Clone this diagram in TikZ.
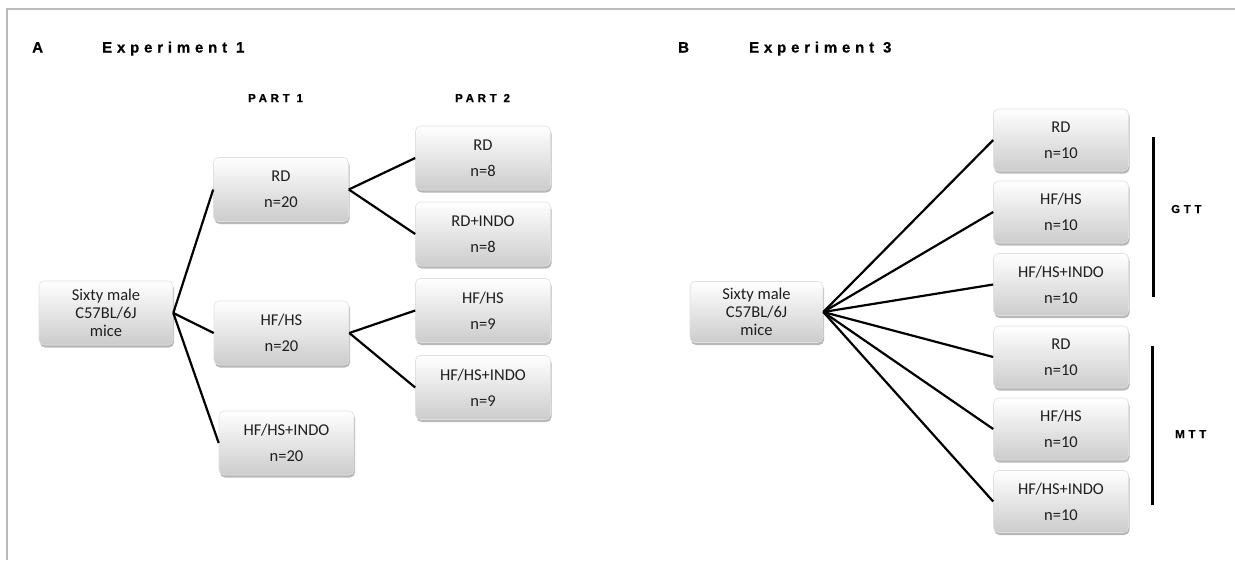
\documentclass[tikz,border=0pt]{standalone}
\usepackage{fontspec}
\setmainfont{Carlito}
\newfontfamily\hdr[LetterSpace=32,FakeBold=0.6]{Liberation Sans Bold}
\usetikzlibrary{shadows}
\begin{document}
\begin{tikzpicture}[x=1pt,y=-1pt,
  box/.style={rounded corners=5pt, draw=black!12, line width=0.6pt,
    top color=white, bottom color=black!20,
    minimum width=135pt, minimum height=64pt, align=center, inner sep=0pt,
    text=black!88, font=\fontsize{16.5}{20}\selectfont,
    drop shadow={shadow xshift=1pt, shadow yshift=-2.5pt, opacity=0.28, fill=black}},
  conn/.style={line width=2.2pt, black},
  grpbar/.style={line width=3.6pt, black},
  hd/.style={font=\hdr\fontsize{15}{17}\selectfont, anchor=base west, inner sep=0pt},
  subhd/.style={font=\hdr\fontsize{11.5}{13}\selectfont, anchor=base west, inner sep=0pt}]
\useasboundingbox (0,0) rectangle (1235,560);
\fill[white] (0,0) rectangle (1235,560);
\draw[line width=2pt, black!27] (7,560) -- (7,8.5) -- (1235,8.5);

% headings
\node[hd] (hA) at (32,52.5) {A};
\node[hd] (hE1) at (102,52.5) {Experiment 1};
\node[hd] (hB) at (678,52.5) {B};
\node[hd] (hE3) at (749,52.5) {Experiment 3};
\node[subhd] (p1) at (248,102) {PART 1};
\node[subhd] (p2) at (455,102) {PART 2};
\node[subhd] (gtt) at (1171,213) {GTT};
\node[subhd] (mtt) at (1175,438) {MTT};

% panel A
\node[box, minimum width=134pt, font=\fontsize{16.5}{18}\selectfont] (s1) at (106,313) {Sixty male\\C57BL/6J\\mice};
\node[box] (a1) at (281,189.5) {RD\\[6pt]n=20};
\node[box] (a2) at (281.5,333) {HF/HS\\[6pt]n=20};
\node[box] (a3) at (286.5,443) {HF/HS+INDO\\[6pt]n=20};
\node[box] (b1) at (483,158) {RD\\[6pt]n=8};
\node[box] (b2) at (483,234) {RD+INDO\\[6pt]n=8};
\node[box] (b3) at (483,310.5) {HF/HS\\[6pt]n=9};
\node[box] (b4) at (483,387.5) {HF/HS+INDO\\[6pt]n=9};

\draw[conn] (s1.east) -- (a1.west);
\draw[conn] (s1.east) -- (a2.west);
\draw[conn] (s1.east) -- (a3.west);
\draw[conn] (a1.east) -- (b1.west);
\draw[conn] (a1.east) -- (b2.west);
\draw[conn] (a2.east) -- (b3.west);
\draw[conn] (a2.east) -- (b4.west);

% panel B
\node[box, minimum width=133pt, minimum height=61pt, font=\fontsize{16.5}{18}\selectfont] (s2) at (756.5,312) {Sixty male\\C57BL/6J\\mice};
\node[box, minimum height=62pt] (c1) at (1061,140) {RD\\[6pt]n=10};
\node[box, minimum height=62pt] (c2) at (1061,212) {HF/HS\\[6pt]n=10};
\node[box, minimum height=62pt] (c3) at (1061,284.5) {HF/HS+INDO\\[6pt]n=10};
\node[box, minimum height=62pt] (c4) at (1061,357) {RD\\[6pt]n=10};
\node[box, minimum height=62pt] (c5) at (1061,429) {HF/HS\\[6pt]n=10};
\node[box, minimum height=62pt] (c6) at (1061,501.5) {HF/HS+INDO\\[6pt]n=10};

\foreach \c in {c1,c2,c3,c4,c5,c6}{\draw[conn] (s2.east) -- (\c.west);}

\draw[grpbar] (1153.5,137) -- (1153.5,297);
\draw[grpbar] (1152.5,346) -- (1152.5,505);
\end{tikzpicture}
\end{document}
